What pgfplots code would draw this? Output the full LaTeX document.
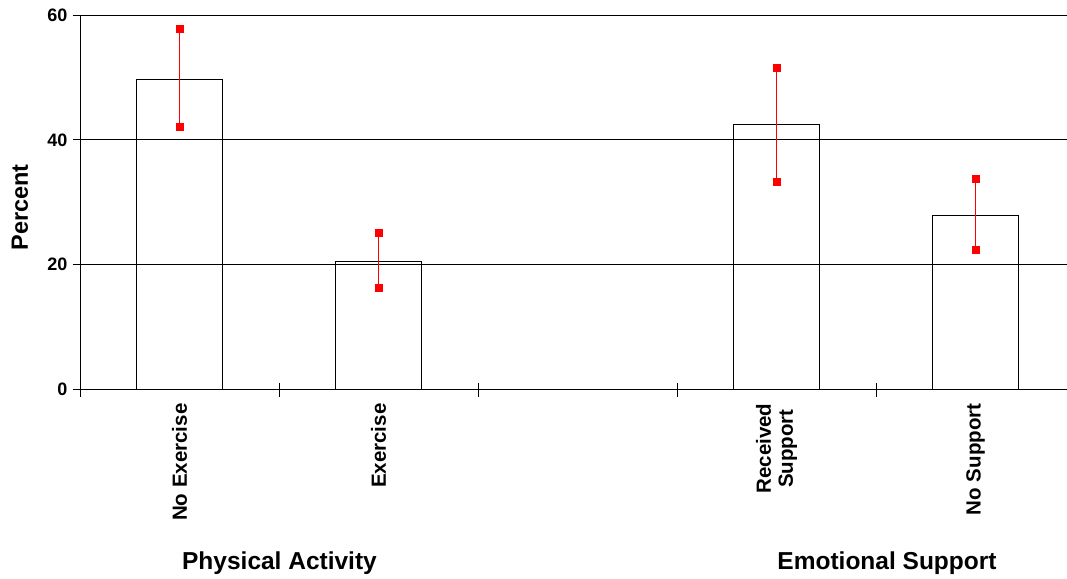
\documentclass[border=0pt]{standalone}
\usepackage{pgfplots}
\pgfplotsset{compat=1.18}
\usepackage{fontspec}
\setmainfont{Liberation Sans}
\begin{document}
\begin{tikzpicture}[x=1pt,y=1pt]
\begin{axis}[
  scale only axis, width=987pt, height=374.5pt,
  xmin=-0.5, xmax=4.46, ymin=0, ymax=60,
  axis x line*=bottom, axis y line*=left,
  x axis line style={black, line width=1.8pt},
  y axis line style={black, line width=0.8pt},
  ytick={0,20,40,60},
  ymajorgrids, grid style={black, line width=0.8pt},
  xtick={0,1,3,4},
  xticklabels={No Exercise, Exercise, {Received\\Support}, No Support},
  minor xtick={-0.5,0.5,1.5,2.5,3.5},
  major x tick style={draw=none},
  minor x tick style={black, line width=0.8pt},
  y tick style={black, line width=0.8pt},
  xtick align=center, ytick align=outside,
  major tick length=7pt, minor tick length=14pt,
  /pgf/number format/assume math mode=true,
  yticklabel style={font=\bfseries\fontsize{18}{20}\selectfont, xshift=-2pt},
  xticklabel style={rotate=90, anchor=east, align=center, font=\bfseries\fontsize{20.5}{22}\selectfont},
  xticklabel shift=7pt,
  ylabel={Percent},
  ylabel style={at={(axis description cs:-0.0608,0.486)}, anchor=center, font=\bfseries\fontsize{23.5}{25}\selectfont},
  clip=false,
]
\addplot[ybar, bar width=0.433, draw=black, line width=0.8pt, fill=none,
  error bars/.cd, y dir=both, y explicit,
  error bar style={red, line width=0.8pt},
  error mark=square*,
  error mark options={draw=red, fill=red, mark size=3.5pt}]
coordinates {
  (0,49.74) += (0,8.01) -= (0,7.69)
  (1,20.6)  += (0,4.6)  -= (0,4.34)
  (3,42.4)  += (0,9.2)  -= (0,9.05)
  (4,27.96) += (0,5.81) -= (0,5.61)
};
\end{axis}
\node[font=\bfseries\fontsize{24.5}{26}\selectfont] at (199.5,-173.5) {Physical Activity};
\node[font=\bfseries\fontsize{24.5}{26}\selectfont] at (807,-173.5) {Emotional Support};
\pgfresetboundingbox
\path[use as bounding box] (-80,-188.5) rectangle (987,389.5);
\end{tikzpicture}
\end{document}
